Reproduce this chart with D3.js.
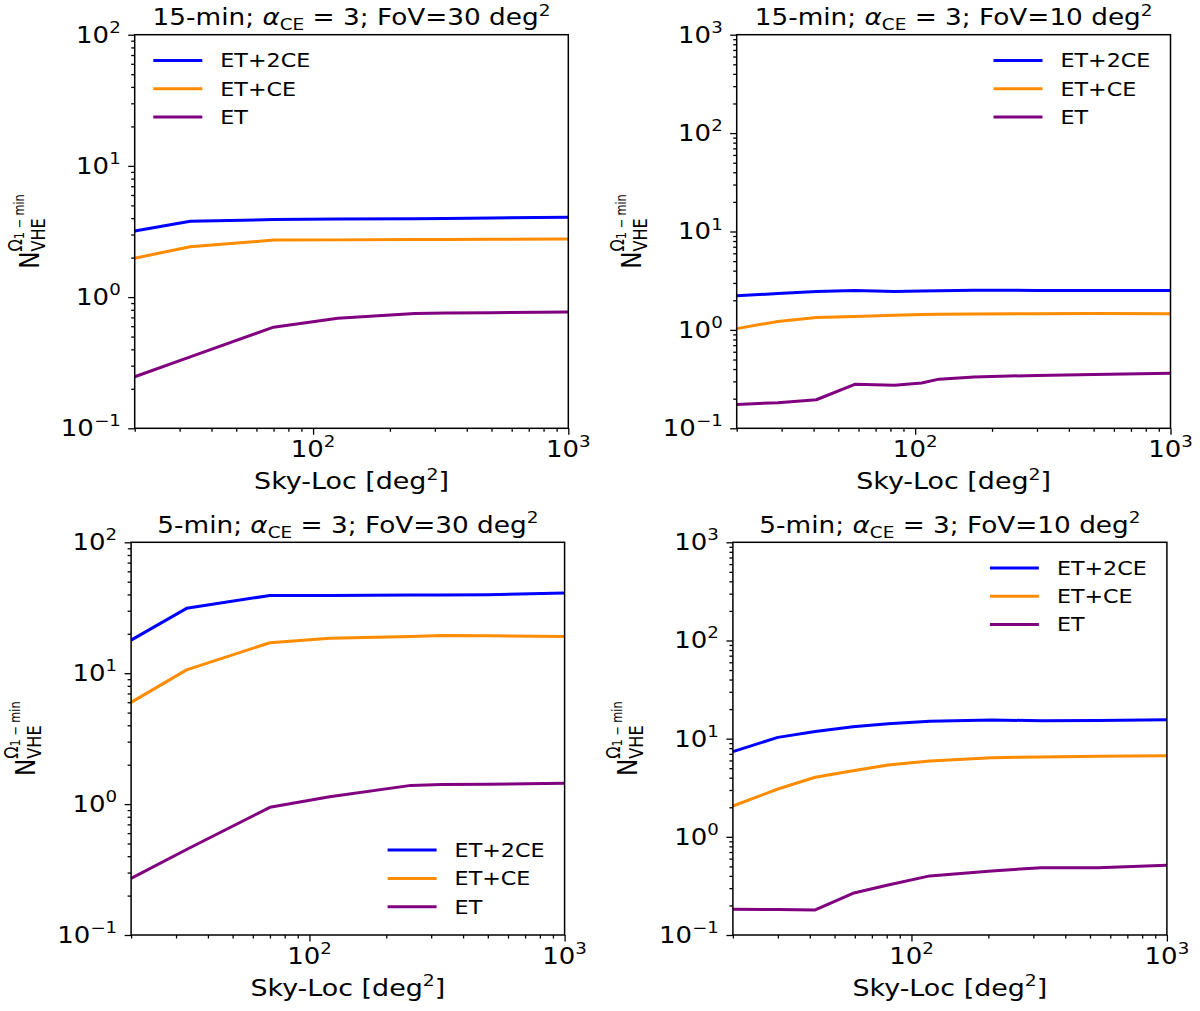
<!DOCTYPE html>
<html>
<head>
<meta charset="utf-8">
<script src="https://cdn.jsdelivr.net/npm/d3@7"></script>
<style>
body { margin: 0; background: #fff; }
text { font-family: "DejaVu Sans", sans-serif; fill: #000; }
</style>
</head>
<body>
<svg id="chart"></svg>
<script>
// sky localisation grid [deg^2] and N_VHE values
var skyA = [20, 33, 70, 125, 250, 330, 500, 1000];
var et2ceA = [3.19, 3.78, 3.90, 3.93, 3.96, 3.98, 4.01, 4.06];
var etceA = [1.98, 2.42, 2.72, 2.73, 2.75, 2.75, 2.76, 2.77];
var etA = [0.247, 0.35, 0.59, 0.69, 0.75, 0.755, 0.76, 0.77];

var skyB = [20, 29, 41, 58, 83, 106, 124, 170, 300, 500, 1000];
var et2ceB = [2.22, 2.34, 2.45, 2.51, 2.46, 2.48, 2.50, 2.53, 2.52, 2.51, 2.51];
var etceB = [1.03, 1.22, 1.34, 1.37, 1.41, 1.43, 1.44, 1.45, 1.46, 1.47, 1.46];
var etB = [0.175, 0.182, 0.195, 0.28, 0.274, 0.289, 0.316, 0.332, 0.345, 0.352, 0.362];

var skyC = [20, 33, 70, 120, 250, 330, 500, 1000];
var et2ceC = [17.9, 31.3, 39.3, 39.3, 39.5, 39.6, 39.8, 41.0];
var etceC = [5.99, 10.6, 17.1, 18.5, 19.1, 19.4, 19.3, 19.1];
var etC = [0.271, 0.45, 0.945, 1.14, 1.39, 1.41, 1.42, 1.44];

var skyD = [20, 30, 42, 59, 81, 118, 206, 322, 538, 1000];
var et2ceD = [7.38, 10.3, 11.8, 13.2, 14.2, 15.0, 15.5, 15.2, 15.3, 15.6];
var etceD = [2.06, 3.07, 4.04, 4.72, 5.39, 5.92, 6.4, 6.5, 6.6, 6.71];
var etD = [0.183, 0.182, 0.180, 0.266, 0.323, 0.40, 0.449, 0.485, 0.485, 0.513];

var labels = ["ET+2CE", "ET+CE", "ET"];
var durations = ["15-min", "15-min", "5-min", "5-min"];
var fovs = [30, 10, 30, 10];
var yMaxes = [100, 1000, 100, 1000];
var xMajor = [100, 1000];

var panels = [
    {sky: skyA, series: [et2ceA, etceA, etA]},
    {sky: skyB, series: [et2ceB, etceB, etB]},
    {sky: skyC, series: [et2ceC, etceC, etC]},
    {sky: skyD, series: [et2ceD, etceD, etD]}
];

// layout (pixels)
var boxes = [
    {l: 134.7, r: 568.3, t: 34.7, b: 428.3},
    {l: 736.7, r: 1170.5, t: 34.7, b: 428.3},
    {l: 131.1, r: 564.6, t: 542.3, b: 935},
    {l: 732.9, r: 1166.9, t: 542.3, b: 935}
];
var legendLoc = ["ul", "ur", "lr", "ur"];
var colors = ["#0000ff", "#ff8c00", "#800080"];
var TICK = 22.2, TITLE = 22.5, LABEL = 23, LEG = 19, YLAB = 23;
var SX = 1.17; // the reference text is a bit wide

var svg = d3.select("#chart")
    .attr("width", 1200)
    .attr("height", 1011);

// text made of pieces, shift is in em (down positive)
function rich(sel, parts, fs) {
    var cur = 0;
    parts.forEach(function(p) {
        var off = (p.shift || 0) * fs;
        var ts = sel.append("tspan").attr("dy", off - cur).text(p.t);
        cur = off;
        if (p.size) ts.attr("font-size", p.size * fs);
        if (p.italic) ts.attr("font-style", "italic");
    });
}

function place(g, x, y, fs, anchor) {
    return g.append("text")
        .attr("transform", "translate(" + x + "," + y + ") scale(" + SX + ",1)")
        .attr("text-anchor", anchor || "start")
        .attr("font-size", fs);
}

function powParts(e) {
    return [{t: "10"}, {t: e < 0 ? "\u2212" + (-e) : String(e), size: 0.7, shift: -0.45}];
}

panels.forEach(function(p, i) {
    var bx = boxes[i];
    var x = d3.scaleLog().domain([20, 1000]).range([bx.l, bx.r]);
    var y = d3.scaleLog().domain([0.1, yMaxes[i]]).range([bx.b, bx.t]);
    var g = svg.append("g");

    var line = d3.line()
        .x(function(d) { return x(d[0]); })
        .y(function(d) { return y(d[1]); });

    p.series.forEach(function(s, k) {
        g.append("path")
            .datum(d3.zip(p.sky, s))
            .attr("d", line)
            .attr("fill", "none")
            .attr("stroke", colors[k])
            .attr("stroke-width", 3)
            .attr("stroke-linejoin", "round");
    });

    // minor / major ticks
    var xMinor = [];
    [10, 100].forEach(function(d) {
        for (var m = 2; m <= 9; m++) if (m * d >= 20 && m * d <= 1000) xMinor.push(m * d);
    });
    var yMajor = [], yMinor = [];
    for (var d = 0.1; d <= yMaxes[i] * 1.001; d *= 10) {
        yMajor.push(d);
        if (d < yMaxes[i] * 0.999) for (var m = 2; m <= 9; m++) yMinor.push(m * d);
    }

    function axisB(vals, size) {
        g.append("g")
            .attr("transform", "translate(0," + bx.b + ")")
            .call(d3.axisBottom(x).tickValues(vals).tickFormat("").tickSize(size).tickSizeOuter(0))
            .call(function(a) { a.select(".domain").remove(); a.selectAll("line").attr("stroke", "#000").attr("stroke-width", 1.3); });
    }
    function axisL(vals, size) {
        g.append("g")
            .attr("transform", "translate(" + bx.l + ",0)")
            .call(d3.axisLeft(y).tickValues(vals).tickFormat("").tickSize(size).tickSizeOuter(0))
            .call(function(a) { a.select(".domain").remove(); a.selectAll("line").attr("stroke", "#000").attr("stroke-width", 1.3); });
    }
    axisB(xMinor, 3.5);
    axisB(xMajor, 6.5);
    axisL(yMinor, 3.5);
    axisL(yMajor, 6.5);

    g.append("rect")
        .attr("x", bx.l).attr("y", bx.t)
        .attr("width", bx.r - bx.l).attr("height", bx.b - bx.t)
        .attr("fill", "none").attr("stroke", "#000").attr("stroke-width", 1.5);

    // tick labels
    xMajor.forEach(function(v) {
        rich(place(g, x(v), bx.b + 29, TICK, "middle"), powParts(Math.round(Math.log10(v))), TICK);
    });
    yMajor.forEach(function(v) {
        rich(place(g, bx.l - 14, y(v) + 0.36 * TICK, TICK, "end"), powParts(Math.round(Math.log10(v))), TICK);
    });

    // title
    rich(place(g, (bx.l + bx.r) / 2, bx.t - 9.7, TITLE, "middle"), [
        {t: durations[i] + "; "},
        {t: "\u03b1", italic: true},
        {t: "CE", size: 0.7, shift: 0.22},
        {t: " = 3; FoV=" + fovs[i] + " deg"},
        {t: "2", size: 0.7, shift: -0.42}
    ], TITLE);

    // x label
    rich(place(g, (bx.l + bx.r) / 2, bx.b + 61, LABEL, "middle"),
        [{t: "Sky-Loc [deg"}, {t: "2", size: 0.7, shift: -0.42}, {t: "]"}], LABEL);

    // y label, rotated
    var gy = g.append("g")
        .attr("transform", "translate(" + (bx.l - 96) + "," + ((bx.t + bx.b) / 2) + ") scale(" + SX + ",1) rotate(-90)");
    var inner = gy.append("g");
    var tN = inner.append("text").attr("font-size", YLAB).text("N");
    var wN = tN.node().getComputedTextLength();
    var tO = inner.append("text").attr("x", wN).attr("y", -0.62 * YLAB).attr("font-size", 0.7 * YLAB).text("\u03a9");
    var wO = tO.node().getComputedTextLength();
    var tM = inner.append("text").attr("x", wN + wO).attr("y", -0.56 * YLAB).attr("font-size", 0.49 * YLAB).text("1 \u2212 min");
    var wM = tM.node().getComputedTextLength();
    var tV = inner.append("text").attr("x", wN).attr("y", 0.22 * YLAB).attr("font-size", 0.7 * YLAB).text("VHE");
    var wV = tV.node().getComputedTextLength();
    var total = Math.max(wN + wO + wM, wN + wV);
    inner.attr("transform", "translate(" + (-total / 2) + ",0)");

    // legend
    var hx0 = legendLoc[i] === "ul" ? bx.l + 18.6 : bx.r - 177;
    var hx1 = hx0 + 49;
    var tx = hx0 + 67;
    var rows = labels.map(function(lab, k) {
        return legendLoc[i] === "lr" ? bx.b - 28.3 - (2 - k) * 28.3 : bx.t + 25.7 + k * 28.3;
    });
    labels.forEach(function(lab, k) {
        g.append("line")
            .attr("x1", hx0).attr("x2", hx1)
            .attr("y1", rows[k]).attr("y2", rows[k])
            .attr("stroke", colors[k]).attr("stroke-width", 3);
        place(g, tx, rows[k] + 0.36 * LEG, LEG).text(lab);
    });
});
</script>
</body>
</html>
